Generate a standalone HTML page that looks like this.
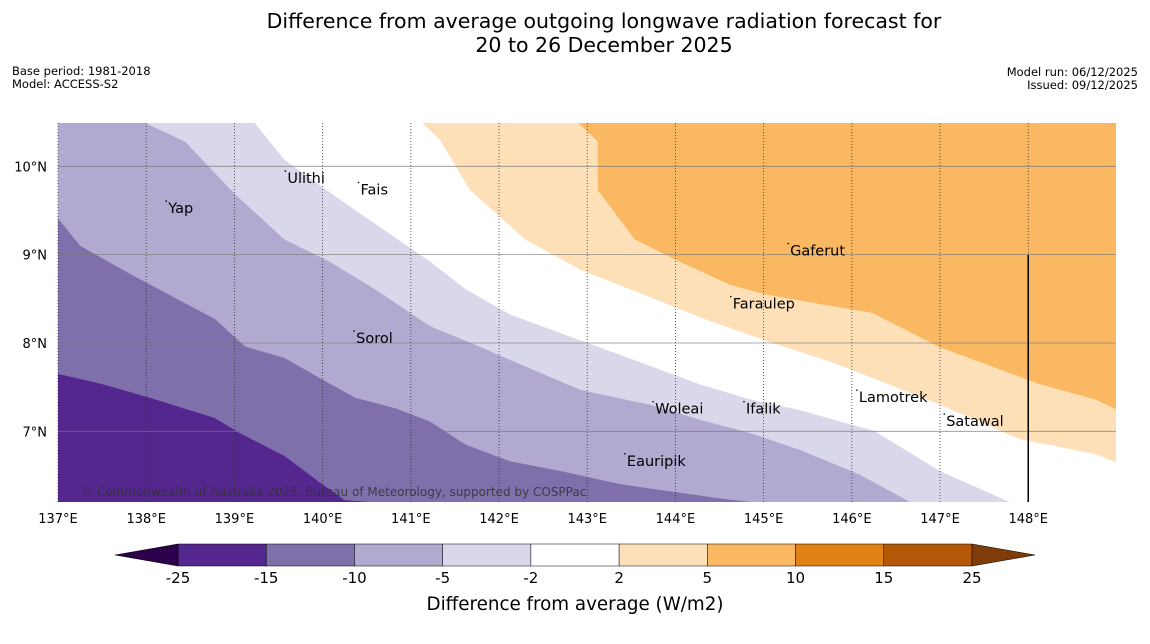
<!DOCTYPE html>
<html><head><meta charset="utf-8">
<style>
body{margin:0;background:#fff;font-family:"DejaVu Sans","Liberation Sans",sans-serif;}
#wrap{position:relative;width:1150px;height:644px;overflow:hidden;}
</style></head>
<body>
<div id="wrap">
<svg id="svg" width="1150" height="644" xmlns="http://www.w3.org/2000/svg" font-family="DejaVu Sans, Liberation Sans, sans-serif">
<text x="604" y="28" font-size="20.5" text-anchor="middle">Difference from average outgoing longwave radiation forecast for</text>
<text x="604" y="52" font-size="20.5" text-anchor="middle">20 to 26 December 2025</text>
<text x="12" y="75" font-size="11.5">Base period: 1981-2018</text>
<text x="12" y="88" font-size="11.5">Model: ACCESS-S2</text>
<text x="1138" y="76" font-size="11.5" text-anchor="end">Model run: 06/12/2025</text>
<text x="1138" y="89" font-size="11.5" text-anchor="end">Issued: 09/12/2025</text>
<g id="map"></g>
<g id="cbar"></g>
</svg>
</div>
<script>
// map extent
const lonMin=137, lonMax=148.995, latMin=6.2, latMax=10.49;
const X0=58,X1=1116,Y0=123,Y1=502;
const lonTicks=[137,138,139,140,141,142,143,144,145,146,147,148];
const latTicks=[7,8,9,10];
const levels=[-25,-15,-10,-5,-2,2,5,10,15,25];
const levelColors=["#54278f","#7f6fab","#b1a9d0","#d8d8ea","#ffffff","#fde0b8","#fbb862","#e08214","#b35806"];
const extColors=["#2d004b","#7f3b08"];
// contour boundaries (lon, lat)
const c15=[[137,7.65],[137.48,7.54],[138.04,7.38],[138.78,7.15],[139.06,6.98],[139.57,6.72],[139.97,6.42],[140.25,6.22],[140.54,6.2]];
const c10=[[137,9.41],[137.25,9.1],[137.82,8.78],[138.78,8.27],[139.12,7.96],[139.57,7.83],[139.97,7.6],[140.37,7.38],[140.83,7.26],[141.22,7.11],[141.62,6.85],[142.13,6.66],[142.7,6.55],[143.38,6.4],[144.51,6.24],[144.85,6.2]];
const c5=[[137.99,10.49],[138.44,10.28],[139.01,9.68],[139.57,9.17],[140.08,8.92],[140.59,8.61],[141.22,8.19],[141.73,7.98],[142.24,7.76],[142.92,7.47],[143.71,7.3],[144.28,7.13],[144.85,6.98],[145.41,6.79],[146.09,6.51],[146.66,6.2]];
const c2=[[139.23,10.49],[139.57,10.07],[140.2,9.62],[141.22,8.92],[141.62,8.61],[142.13,8.32],[142.81,8.07],[143.77,7.72],[144.28,7.53],[144.85,7.36],[145.41,7.24],[146.26,7],[147,6.55],[147.79,6.2]];
const c2p=[[141.13,10.49],[141.33,10.3],[141.67,9.73],[142.3,9.17],[142.92,8.83],[143.71,8.52],[144.28,8.29],[145.07,8.01],[145.75,7.79],[146.32,7.57],[147,7.3],[147.91,6.91],[148.48,6.8],[148.76,6.74],[148.995,6.65]];
const c5p=[[142.9,10.49],[143.12,10.28],[143.12,9.73],[143.54,9.17],[144.05,8.92],[144.62,8.66],[145.02,8.55],[145.64,8.44],[146.23,8.34],[147,7.95],[148.14,7.53],[148.76,7.36],[148.995,7.25]];
const islands=[["Yap",138.25,9.47],["Ulithi",139.6,9.81],["Fais",140.43,9.68],["Gaferut",145.3,8.99],["Faraulep",144.65,8.39],["Sorol",140.38,8.0],["Woleai",143.77,7.2],["Ifalik",144.8,7.2],["Lamotrek",146.08,7.33],["Satawal",147.07,7.06],["Eauripik",143.45,6.61]];
const colorbarTicks=["-25","-15","-10","-5","-2","2","5","10","15","25"];

const NS="http://www.w3.org/2000/svg";
const px=l=>X0+(l-lonMin)/(lonMax-lonMin)*(X1-X0);
const py=l=>Y0+(latMax-l)/(latMax-latMin)*(Y1-Y0);
function mk(tag,attrs,parent){const e=document.createElementNS(NS,tag);for(const k in attrs)e.setAttribute(k,attrs[k]);parent.appendChild(e);return e;}
const map=document.getElementById('map');
mk('rect',{x:X0,y:Y0,width:X1-X0,height:Y1-Y0,fill:levelColors[0]},map);
const layers=[[c15,[[X1,Y1],[X1,Y0],[X0,Y0]],1,'region-minus15-to-minus10'],[c10,[[X1,Y1],[X1,Y0],[X0,Y0]],2,'region-minus10-to-minus5'],[c5,[[X1,Y1],[X1,Y0]],3,'region-minus5-to-minus2'],[c2,[[X1,Y1],[X1,Y0]],4,'region-minus2-to-2'],[c2p,[[X1,Y0]],5,'region-2-to-5'],[c5p,[[X1,Y0]],6,'region-5-to-10']];
layers.forEach(L=>{
  const pts=L[0].map(p=>px(p[0]).toFixed(1)+','+py(p[1]).toFixed(1)).concat(L[1].map(p=>p.join(',')));
  const e=mk('polygon',{points:pts.join(' '),fill:levelColors[L[2]]},map);
  
  
});
latTicks.forEach(t=>{
  const y=py(t);
  const g=mk('line',{x1:X0,x2:X1,y1:y,y2:y,stroke:'#777','stroke-width':0.8,'stroke-opacity':0.8},map);
  
  
  const tx=mk('text',{x:47,y:y+5,'font-size':13,'text-anchor':'end'},map);tx.textContent=t+'°N';
  
  
});
lonTicks.forEach(t=>{
  const x=px(t);
  const g=mk('line',{x1:x,x2:x,y1:Y0,y2:Y1,stroke:'#333','stroke-width':0.8,'stroke-dasharray':'1,2'},map);
  
  
  const tx=mk('text',{x:x,y:523,'font-size':13,'text-anchor':'middle'},map);tx.textContent=t+'°E';
  
  
});
const vl=mk('line',{x1:px(148),x2:px(148),y1:py(9),y2:Y1,stroke:'#000','stroke-width':1.5},map);


islands.forEach(s=>{
  const x=px(s[1]),y=py(s[2]);
  const d=mk('circle',{cx:x-2,cy:y-12,r:0.8,fill:'#000'},map);
  
  
  const tx=mk('text',{x:x,y:y,'font-size':14.5},map);tx.textContent=s[0];
  
  
});
const cp=mk('text',{x:81,y:496,'font-size':12,fill:'#333','fill-opacity':0.85},map);cp.textContent='© Commonwealth of Australia 2025, Bureau of Meteorology, supported by COSPPac';


// colorbar
const cb=document.getElementById('cbar');
const CB0=178,CB1=972,CY=544,CH=22;
const step=(CB1-CB0)/(levels.length-1);
for(let i=0;i<levelColors.length;i++){
  const r=mk('rect',{x:CB0+i*step,y:CY,width:step,height:CH,fill:levelColors[i],stroke:'#000','stroke-width':0.5},cb);
  
  
}
const t1=mk('polygon',{points:`${CB0},${CY} 115,${CY+CH/2} ${CB0},${CY+CH}`,fill:extColors[0],stroke:'#000','stroke-width':0.5},cb);


const t2=mk('polygon',{points:`${CB1},${CY} 1035,${CY+CH/2} ${CB1},${CY+CH}`,fill:extColors[1],stroke:'#000','stroke-width':0.5},cb);


colorbarTicks.forEach((t,i)=>{
  const tx=mk('text',{x:CB0+i*step,y:583,'font-size':15,'text-anchor':'middle'},cb);tx.textContent=t;
  
  
});
const ct=mk('text',{x:575,y:610,'font-size':18.3,'text-anchor':'middle'},cb);ct.textContent='Difference from average (W/m2)';


</script>
</body></html>
